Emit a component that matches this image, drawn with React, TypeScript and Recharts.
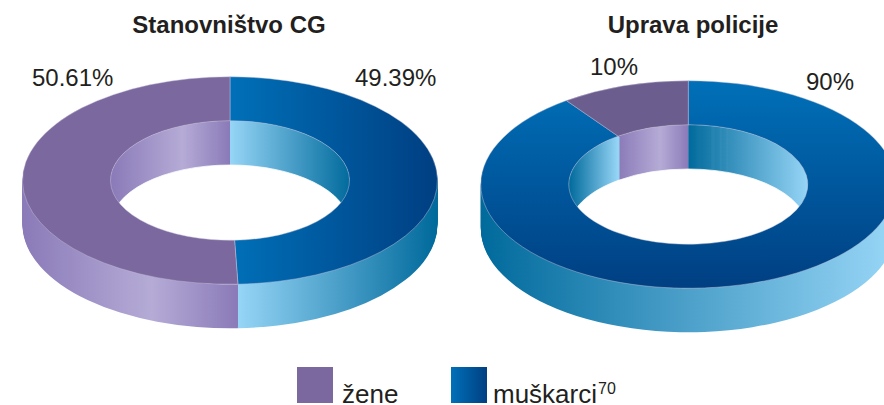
import React from 'react'
import { PieChart, Pie, Cell } from 'recharts'

const categories = ['muškarci', 'žene']
const populationValues = [49.39, 50.61]
const policeValues = [90, 10]

const populationData = categories.map((name, i) => ({ name, value: populationValues[i] }))
const policeData = categories.map((name, i) => ({ name, value: policeValues[i] }))

// the chart is drawn twice as tall and squashed with css to get the tilted look
const SQUASH = 0.5
const DEPTH = 88
const wallLayers = Array.from({ length: DEPTH / 2 }, (_, i) => DEPTH - i * 2)

const font = '"Liberation Sans", Arial, sans-serif'

interface RingProps {
  id: string
  data: { name: string; value: number }[]
  cx: number
  cy: number
  top: string[]
}

const hGrad = (id: string, x1: number, x2: number, stops: [number, string][]) => (
  <linearGradient id={id} gradientUnits="userSpaceOnUse" x1={x1} x2={x2} y1={0} y2={0}>
    {stops.map(([o, c]) => (
      <stop key={o} offset={o} stopColor={c} />
    ))}
  </linearGradient>
)

const LIGHT = '#96D5F6'
const TEAL = '#006A9C'
const P_EDGE = '#8A7AB8'
const P_LIGHT = '#B5ABD6'

function rings({ id, data, cx, cy, top }: RingProps) {
  const base = {
    data,
    dataKey: 'value',
    cx,
    startAngle: 90,
    endAngle: -270,
    stroke: 'none',
    isAnimationActive: false,
  }
  return [
    ...wallLayers.map((d) => (
      <Pie key={`${id}-wall-${d}`} {...base} cy={cy + d} innerRadius={0} outerRadius={207.5}>
        <Cell fill={`url(#${id}-wall-blue)`} />
        <Cell fill={`url(#${id}-wall-purple)`} />
      </Pie>
    )),
    <Pie key={`${id}-back`} {...base} cy={cy} innerRadius={0} outerRadius={119.5} stroke="#FFFFFF">
      <Cell fill="#FFFFFF" />
      <Cell fill="#FFFFFF" />
    </Pie>,
    // wall of the hole, thin rings stacked so the sector edges stay vertical
    ...wallLayers.map((d) => (
      <Pie key={`${id}-inner-${d}`} {...base} cy={cy + d} innerRadius={116} outerRadius={119.5}>
        <Cell fill={`url(#${id}-inner-blue)`} />
        <Cell fill={`url(#${id}-inner-purple)`} />
      </Pie>
    )),
    <Pie key={`${id}-inner-0`} {...base} cy={cy} innerRadius={116} outerRadius={119.5}>
      <Cell fill={`url(#${id}-inner-blue)`} />
      <Cell fill={`url(#${id}-inner-purple)`} />
    </Pie>,
    <Pie key={`${id}-hole`} {...base} cy={cy + DEPTH} innerRadius={0} outerRadius={119} stroke="#FFFFFF">
      <Cell fill="#FFFFFF" />
      <Cell fill="#FFFFFF" />
    </Pie>,
    <Pie key={`${id}-top`} {...base} cy={cy} innerRadius={119.5} outerRadius={207.5} stroke="#C9C4DC" strokeWidth={0.6}>
      <Cell fill={top[0]} />
      <Cell fill={top[1]} />
    </Pie>,
  ]
}

function Label({ x, y, children, bold, center, size = 24, lineHeight = 1 }: any) {
  return (
    <div
      style={{
        position: 'absolute',
        left: x,
        top: y,
        font: `${bold ? 'bold ' : ''}${size}px/${lineHeight} ${font}`,
        color: '#231F20',
        whiteSpace: 'nowrap',
        transform: center ? 'translateX(-50%)' : undefined,
      }}
    >
      {children}
    </div>
  )
}

export default function App() {
  return (
    <div style={{ position: 'absolute', left: 0, top: 0, width: 884, height: 405, overflow: 'hidden', background: '#fff' }}>
      <div style={{ position: 'absolute', left: 0, top: 0, transform: `scaleY(${SQUASH})`, transformOrigin: '0 0' }}>
        <PieChart width={884} height={810} margin={{ top: 0, right: 0, bottom: 0, left: 0 }}>
          <defs>
            <linearGradient id="topBlueH" gradientUnits="userSpaceOnUse" x1={229.5} x2={436} y1={0} y2={0}>
              <stop offset={0} stopColor="#0070B8" />
              <stop offset={1} stopColor="#003F82" />
            </linearGradient>
            <linearGradient id="topBlueV" gradientUnits="userSpaceOnUse" x1={0} x2={0} y1={162} y2={576}>
              <stop offset={0} stopColor="#0070B8" />
              <stop offset={1} stopColor="#003F82" />
            </linearGradient>
            {hGrad('a-wall-blue', 238, 436, [[0, LIGHT], [1, TEAL]])}
            {hGrad('a-wall-purple', 22, 238, [[0, P_EDGE], [0.6, P_LIGHT], [1, P_EDGE]])}
            {hGrad('a-inner-blue', 230, 351, [[0, LIGHT], [1, TEAL]])}
            {hGrad('a-inner-purple', 111, 230, [[0, P_EDGE], [0.6, P_LIGHT], [1, P_EDGE]])}
            {hGrad('b-wall-blue', 481, 890, [[0, TEAL], [1, LIGHT]])}
            {hGrad('b-wall-purple', 481, 890, [[0, P_EDGE], [1, P_EDGE]])}
            {hGrad('b-inner-blue', 569, 808, [[0, TEAL], [0.205, LIGHT], [0.499, TEAL], [1, LIGHT]])}
            {hGrad('b-inner-purple', 618, 688.3, [[0, P_EDGE], [0.6, P_LIGHT], [1, P_EDGE]])}
          </defs>
          {rings({ id: 'a', data: populationData, cx: 230, cy: 361, top: ['url(#topBlueH)', '#7A689F'] })}
          {rings({ id: 'b', data: policeData, cx: 688.3, cy: 369, top: ['url(#topBlueV)', '#6C5D8F'] })}
        </PieChart>
      </div>

      <Label x={229} y={13} bold center>Stanovništvo CG</Label>
      <Label x={693} y={13} bold center>Uprava policije</Label>
      <Label x={32} y={66}>50.61%</Label>
      <Label x={355} y={66}>49.39%</Label>
      <Label x={590} y={55}>10%</Label>
      <Label x={806} y={70}>90%</Label>

      <div style={{ position: 'absolute', left: 297, top: 367, width: 36, height: 36, background: '#7A689F' }} />
      <Label x={342} y={383} size={26} lineHeight="22px">žene</Label>
      <div style={{ position: 'absolute', left: 451, top: 367, width: 36, height: 36, background: 'linear-gradient(90deg, #0070B8, #003F82)' }} />
      <Label x={493} y={383} size={26} lineHeight="22px">
        muškarci<span style={{ fontSize: 16, position: 'relative', top: -9, marginLeft: 1 }}>70</span>
      </Label>
    </div>
  )
}
